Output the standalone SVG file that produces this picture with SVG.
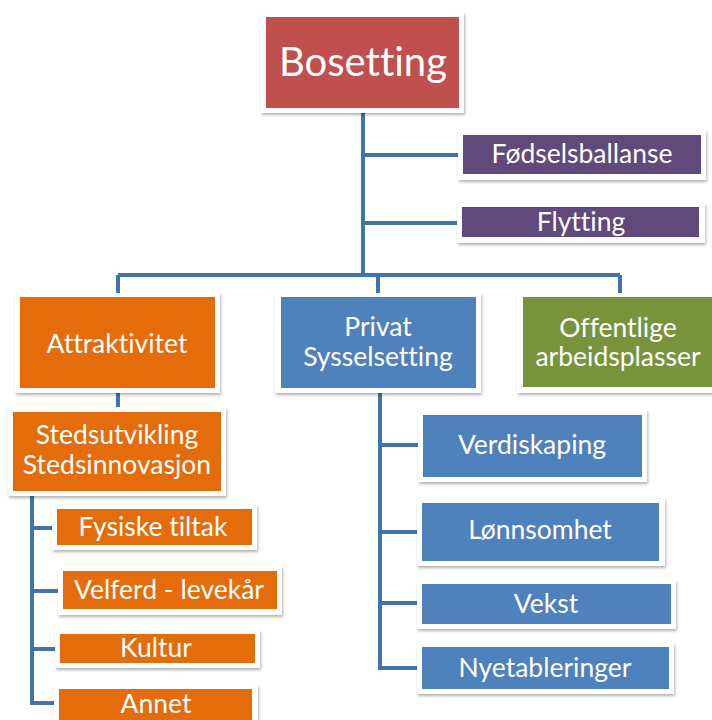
<svg xmlns="http://www.w3.org/2000/svg" width="712" height="720" viewBox="0 0 712 720">
<defs>
<filter id="sh" x="-10%" y="-20%" width="120%" height="150%">
<feDropShadow dx="1" dy="2" stdDeviation="1.5" flood-color="#000" flood-opacity="0.3"/>
</filter>
<style>
.frame{fill:#fff;filter:url(#sh)}
.t{fill:#fff;font-family:Lato,"Open Sans","Liberation Sans",sans-serif;font-size:26.5px;text-anchor:middle;font-variant-ligatures:none}
.red{fill:#C0504D}.pur{fill:#604A7B}.ora{fill:#E46C0A}.blu{fill:#4F81BD}.grn{fill:#77933C}
.c{fill:none;stroke:#4472AA;stroke-width:4;stroke-linejoin:miter}
</style>
</defs>
<rect width="712" height="720" fill="#fff"/>
<g id="connectors">
<path class="c" d="M363 113V275M118 275H620M363 155H458M363 223H457M118 275V293M378 275V293M620 275V293"/>
<path class="c" d="M118 393V407"/>
<path class="c" d="M32 496V703H55M32 528H52M32 591H58M32 649H55"/>
<path class="c" d="M380 393V668H417M380 445H418M380 532H417M380 603H417"/>
</g>
<g id="bosetting"><rect class="frame" x="261" y="12" width="203" height="101"/><rect class="red" x="266" y="17" width="193" height="91"/><text class="t" x="363" y="76" style="font-size:40px">Bosetting</text></g>
<g id="fodselsballanse"><rect class="frame" x="458" y="130" width="248" height="50"/><rect class="pur" x="463" y="135" width="238" height="39"/><text class="t" x="582" y="163">Fødselsballanse</text></g>
<g id="flytting"><rect class="frame" x="457" y="203" width="248" height="40"/><rect class="pur" x="462" y="207" width="237" height="30"/><text class="t" x="581" y="231">Flytting</text></g>
<g id="attraktivitet"><rect class="frame" x="15" y="293" width="205" height="100"/><rect class="ora" x="20" y="297" width="195" height="91"/><text class="t" x="117" y="353">Attraktivitet</text></g>
<g id="privat"><rect class="frame" x="275" y="293" width="206" height="100"/><rect class="blu" x="281" y="297" width="195" height="91"/><text class="t" x="378" y="336">Privat</text><text class="t" x="378" y="366">Sysselsetting</text></g>
<g id="offentlige"><rect class="frame" x="517" y="293" width="205" height="100"/><rect class="grn" x="523" y="297" width="195" height="90"/><text class="t" x="618" y="337">Offentlige</text><text class="t" x="618" y="366">arbeidsplasser</text></g>
<g id="stedsutvikling"><rect class="frame" x="8" y="407" width="218" height="89"/><rect class="ora" x="13" y="412" width="208" height="79"/><text class="t" x="117" y="444">Stedsutvikling</text><text class="t" x="117" y="474">Stedsinnovasjon</text></g>
<g id="fysiske"><rect class="frame" x="52" y="505" width="205" height="45"/><rect class="ora" x="57" y="509" width="195" height="36"/><text class="t" x="153" y="536">Fysiske tiltak</text></g>
<g id="velferd"><rect class="frame" x="58" y="566" width="224" height="49"/><rect class="ora" x="63" y="571" width="214" height="38"/><text class="t" x="169" y="599">Velferd - levekår</text></g>
<g id="kultur"><rect class="frame" x="55" y="630" width="205" height="38"/><rect class="ora" x="60" y="634" width="195" height="29"/><text class="t" x="156" y="657">Kultur</text></g>
<g id="annet"><rect class="frame" x="54" y="685" width="204" height="45"/><rect class="ora" x="59" y="689" width="193" height="40"/><text class="t" x="156" y="713">Annet</text></g>
<g id="verdiskaping"><rect class="frame" x="418" y="410" width="229" height="72"/><rect class="blu" x="423" y="415" width="219" height="62"/><text class="t" x="532" y="454">Verdiskaping</text></g>
<g id="lonnsomhet"><rect class="frame" x="417" y="498" width="248" height="68"/><rect class="blu" x="422" y="503" width="237" height="58"/><text class="t" x="540" y="539">Lønnsomhet</text></g>
<g id="vekst"><rect class="frame" x="417" y="580" width="259" height="49"/><rect class="blu" x="422" y="584" width="249" height="40"/><text class="t" x="546" y="613">Vekst</text></g>
<g id="nyetableringer"><rect class="frame" x="417" y="643" width="257" height="51"/><rect class="blu" x="422" y="647" width="247" height="42"/><text class="t" x="545" y="677">Nyetableringer</text></g>
</svg>
